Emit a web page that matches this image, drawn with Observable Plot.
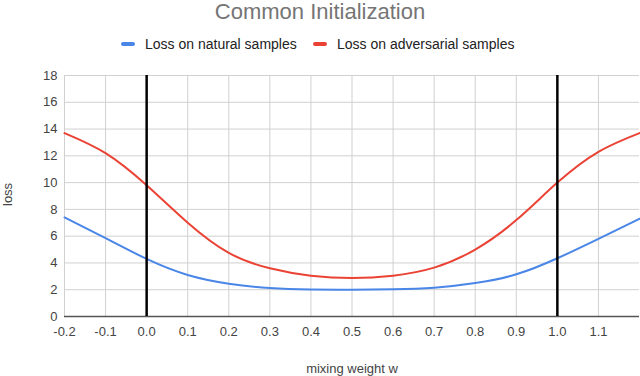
<!DOCTYPE html>
<html>
<head>
<meta charset="utf-8">
<script src="https://cdn.jsdelivr.net/npm/d3@7"></script>
<script src="https://cdn.jsdelivr.net/npm/@observablehq/plot@0.6"></script>
<style>
  html, body { margin: 0; padding: 0; background: #fff; }
  body { width: 640px; height: 376px; position: relative; overflow: hidden; font-family: "Liberation Sans", Arial, sans-serif; }
  #title { position: absolute; left: 0; top: 0; width: 640px; text-align: center; font-size: 22px; color: #757575; line-height: 24px; }
  #legend { position: absolute; top: 35px; left: 0; height: 18px; font-size: 14px; color: #222; }
  .item { position: absolute; top: 0; white-space: nowrap; line-height: 18px; }
  .sw { position: absolute; top: 7px; width: 14px; height: 4px; border-radius: 2px; }
  #chart { position: absolute; left: 0; top: 60px; }
</style>
</head>
<body>
<div id="title"></div>
<div id="legend"></div>
<div id="chart"></div>
<script>
const title = "Common Initialization";
const xLabel = "mixing weight w";
const yLabel = "loss";
const seriesNames = ["Loss on natural samples", "Loss on adversarial samples"];
const seriesColors = ["#4a86e8", "#ea4335"];
const weights = [-0.2, -0.1, 0.0, 0.1, 0.2, 0.3, 0.4, 0.5, 0.6, 0.7, 0.8, 0.9, 1.0, 1.1, 1.2];
const naturalLoss = [7.4, 5.85, 4.3, 3.1, 2.45, 2.12, 2.01, 2.0, 2.03, 2.15, 2.5, 3.15, 4.35, 5.8, 7.3];
const adversarialLoss = [13.7, 12.2, 9.8, 7.0, 4.75, 3.6, 3.05, 2.87, 3.05, 3.65, 5.0, 7.2, 10.0, 12.3, 13.7];
const xTicks = [-0.2, -0.1, 0.0, 0.1, 0.2, 0.3, 0.4, 0.5, 0.6, 0.7, 0.8, 0.9, 1.0, 1.1];
const yTicks = [0, 2, 4, 6, 8, 10, 12, 14, 16, 18];
const markedWeights = [0, 1];

document.getElementById("title").textContent = title;
const legend = document.getElementById("legend");
const legendPos = [[121, 145], [313, 337]];
seriesNames.forEach((name, i) => {
  const sw = document.createElement("div");
  sw.className = "sw";
  sw.style.left = legendPos[i][0] + "px";
  sw.style.background = seriesColors[i];
  legend.appendChild(sw);
  const t = document.createElement("div");
  t.className = "item";
  t.style.left = legendPos[i][1] + "px";
  t.textContent = name;
  legend.appendChild(t);
});

const rows = [];
weights.forEach((w, i) => {
  rows.push({w, loss: naturalLoss[i], series: seriesNames[0]});
  rows.push({w, loss: adversarialLoss[i], series: seriesNames[1]});
});

const chart = Plot.plot({
  width: 640,
  height: 316,
  marginLeft: 64,
  marginRight: 1,
  marginTop: 15,
  marginBottom: 60,
  style: { fontFamily: "'Liberation Sans', Arial, sans-serif", fontSize: "13px", color: "#444", background: "#fff" },
  x: { domain: [-0.2, 1.2] },
  y: { domain: [0, 18] },
  color: { domain: seriesNames, range: seriesColors },
  marks: [
    Plot.gridX(xTicks, { stroke: "#d0d0d0", strokeOpacity: 1, strokeWidth: 1 }),
    Plot.gridY(yTicks, { stroke: "#d0d0d0", strokeOpacity: 1, strokeWidth: 1 }),
    Plot.ruleY([0], { stroke: "#555", strokeWidth: 1.5 }),
    Plot.axisX(xTicks, { tickSize: 0, tickPadding: 10, tickFormat: d => d.toFixed(1), fill: "#444", label: xLabel, labelAnchor: "center", labelArrow: "none", labelOffset: 56 }),
    Plot.axisY(yTicks, { tickSize: 0, tickPadding: 7, fill: "#444", label: null }),
    Plot.text([yLabel], { frameAnchor: "left", text: d => d, rotate: -90, dx: -57, dy: 10, fill: "#444", fontSize: 13 }),
    Plot.line(rows, { x: "w", y: "loss", z: "series", stroke: "series", strokeWidth: 2, curve: "natural" }),
    Plot.ruleX(markedWeights, { y1: 0, y2: 18, stroke: "#000", strokeWidth: 2.5 })
  ]
});
document.getElementById("chart").appendChild(chart);
</script>
</body>
</html>
